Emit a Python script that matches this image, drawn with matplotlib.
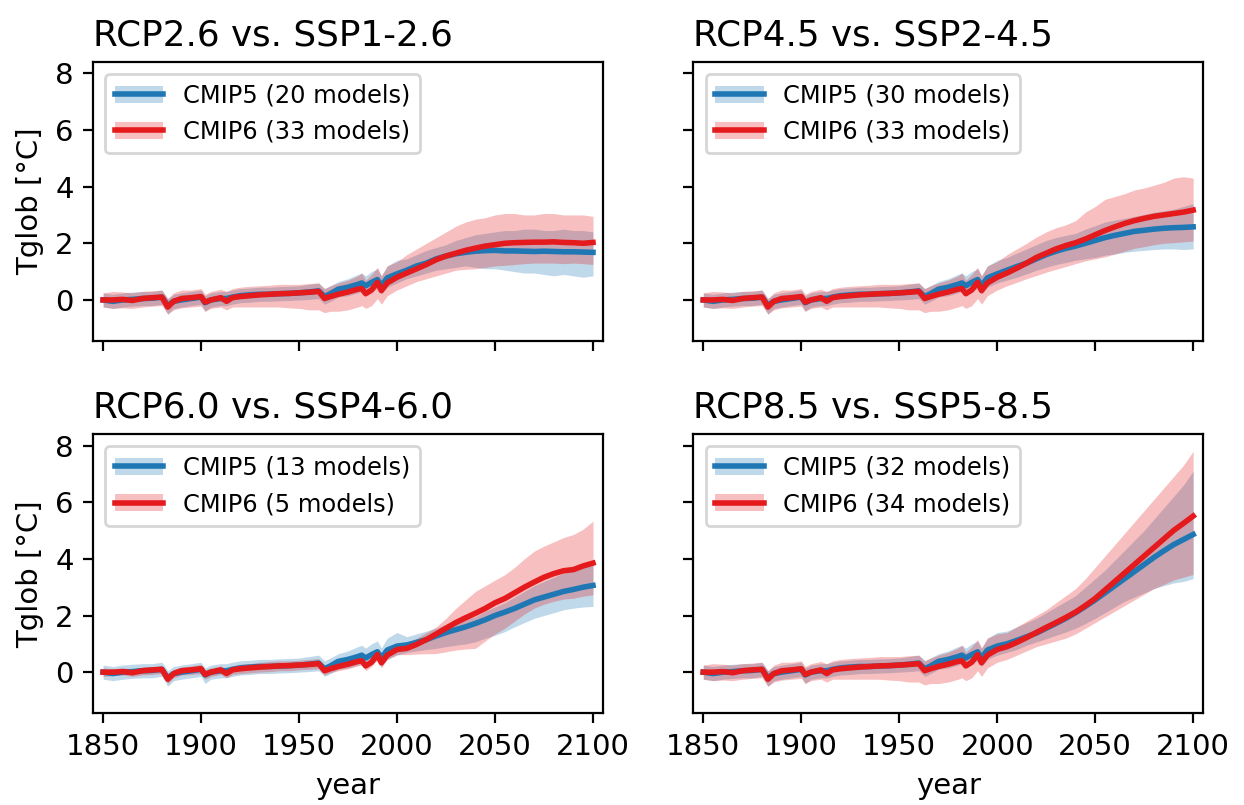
import numpy as np
import matplotlib
matplotlib.use("Agg")
import matplotlib.pyplot as plt
from matplotlib.patches import Patch
from matplotlib.lines import Line2D

# ---- historical period (shared by all panels) ----
years_hist = [1850, 1855, 1860, 1865, 1870, 1875, 1880, 1883, 1886, 1890,
              1895, 1900, 1902, 1905, 1910, 1913, 1916, 1920, 1925, 1930,
              1935, 1940, 1945, 1950, 1955, 1960, 1963, 1966, 1970, 1975,
              1980, 1982, 1984, 1987, 1990, 1992, 1995, 2000]

cm5_hist = [0.00, -0.05, 0.00, 0.02, 0.05, 0.06, 0.10, -0.20, -0.05, 0.00,
            0.05, 0.10, -0.10, 0.00, 0.05, 0.05, 0.10, 0.15, 0.18, 0.20,
            0.20, 0.22, 0.23, 0.25, 0.28, 0.32, 0.12, 0.22, 0.38, 0.45,
            0.55, 0.60, 0.50, 0.62, 0.72, 0.50, 0.78, 0.92]
cm5_hist_lo = [-0.25, -0.30, -0.25, -0.22, -0.20, -0.20, -0.15, -0.50, -0.30, -0.25,
               -0.20, -0.15, -0.40, -0.25, -0.20, -0.20, -0.15, -0.10, -0.08, -0.05,
               -0.05, -0.03, -0.02, 0.00, 0.02, 0.05, -0.15, -0.05, 0.10, 0.15,
               0.25, 0.30, 0.20, 0.30, 0.40, 0.20, 0.45, 0.60]
cm5_hist_hi = [0.25, 0.20, 0.25, 0.28, 0.30, 0.30, 0.35, 0.05, 0.20, 0.25,
               0.30, 0.35, 0.15, 0.25, 0.30, 0.30, 0.35, 0.40, 0.42, 0.45,
               0.45, 0.47, 0.48, 0.50, 0.55, 0.60, 0.40, 0.50, 0.65, 0.75,
               0.90, 0.95, 0.85, 1.00, 1.10, 0.85, 1.20, 1.40]

cm6_hist = [0.00, 0.00, 0.02, -0.02, 0.05, 0.08, 0.10, -0.25, -0.05, 0.05,
            0.08, 0.12, -0.08, 0.00, 0.08, -0.05, 0.08, 0.12, 0.15, 0.18,
            0.20, 0.22, 0.23, 0.25, 0.27, 0.30, 0.05, 0.12, 0.20, 0.28,
            0.38, 0.40, 0.22, 0.35, 0.62, 0.33, 0.60, 0.80]
cm6_hist_lo = [-0.25, -0.30, -0.28, -0.30, -0.25, -0.22, -0.20, -0.50, -0.35, -0.28,
               -0.25, -0.22, -0.40, -0.30, -0.25, -0.35, -0.25, -0.25, -0.25, -0.25,
               -0.25, -0.25, -0.28, -0.30, -0.35, -0.35, -0.45, -0.40, -0.40, -0.35,
               -0.25, -0.20, -0.30, -0.20, 0.05, -0.15, 0.15, 0.35]
cm6_hist_hi = [0.25, 0.30, 0.28, 0.25, 0.30, 0.32, 0.35, 0.05, 0.25, 0.35,
               0.35, 0.40, 0.20, 0.30, 0.38, 0.30, 0.40, 0.45, 0.48, 0.50,
               0.52, 0.55, 0.55, 0.55, 0.58, 0.60, 0.40, 0.50, 0.60, 0.70,
               0.85, 0.95, 0.70, 0.90, 1.15, 0.85, 1.20, 1.35]
# narrower CMIP6 spread for the 5-model SSP4-6.0 ensemble
cm6_hist_lo_ssp460 = [-0.15, -0.12, -0.10, -0.15, -0.10, -0.08, -0.05, -0.40, -0.20, -0.10,
                      -0.08, -0.05, -0.25, -0.15, -0.08, -0.20, -0.08, -0.05, -0.02, 0.00,
                      0.02, 0.05, 0.05, 0.08, 0.10, 0.12, -0.10, -0.02, 0.05, 0.12,
                      0.22, 0.25, 0.05, 0.20, 0.45, 0.15, 0.45, 0.62]
cm6_hist_hi_ssp460 = [0.15, 0.12, 0.15, 0.12, 0.18, 0.20, 0.22, -0.10, 0.10, 0.18,
                      0.22, 0.28, 0.08, 0.15, 0.22, 0.10, 0.22, 0.28, 0.30, 0.35,
                      0.38, 0.40, 0.40, 0.42, 0.45, 0.48, 0.22, 0.28, 0.38, 0.45,
                      0.55, 0.60, 0.40, 0.55, 0.80, 0.50, 0.78, 0.98]

# ---- scenario period ----
years_scen = [2005, 2010, 2015, 2020, 2025, 2030, 2035, 2040, 2045, 2050,
              2055, 2060, 2065, 2070, 2075, 2080, 2085, 2090, 2095, 2100]

# RCP2.6 vs SSP1-2.6
rcp26 = [1.05, 1.20, 1.30, 1.45, 1.55, 1.63, 1.68, 1.72, 1.74, 1.75,
         1.73, 1.73, 1.72, 1.71, 1.72, 1.71, 1.70, 1.70, 1.69, 1.68]
rcp26_lo = [0.75, 0.85, 0.95, 1.05, 1.10, 1.15, 1.20, 1.15, 1.10, 1.10,
            1.05, 1.00, 0.95, 0.95, 0.90, 0.85, 0.90, 0.85, 0.80, 0.85]
rcp26_hi = [1.45, 1.60, 1.75, 1.85, 1.95, 2.10, 2.20, 2.30, 2.35, 2.40,
            2.45, 2.45, 2.50, 2.50, 2.45, 2.45, 2.50, 2.45, 2.45, 2.40]
ssp126 = [0.95, 1.10, 1.25, 1.42, 1.55, 1.65, 1.75, 1.83, 1.90, 1.95,
          2.00, 2.02, 2.03, 2.04, 2.04, 2.05, 2.03, 2.02, 2.00, 2.03]
ssp126_lo = [0.50, 0.65, 0.75, 0.85, 0.95, 1.05, 1.08, 1.10, 1.15, 1.20,
             1.22, 1.25, 1.28, 1.30, 1.30, 1.30, 1.28, 1.30, 1.28, 1.25]
ssp126_hi = [1.60, 1.80, 2.00, 2.20, 2.40, 2.60, 2.75, 2.85, 2.90, 3.00,
             3.05, 3.05, 3.00, 3.00, 3.05, 3.05, 3.00, 3.00, 3.00, 2.95]

# RCP4.5 vs SSP2-4.5
rcp45 = [1.05, 1.18, 1.30, 1.45, 1.60, 1.72, 1.82, 1.90, 2.00, 2.10,
         2.20, 2.28, 2.35, 2.42, 2.46, 2.50, 2.53, 2.55, 2.56, 2.58]
rcp45_lo = [0.70, 0.80, 0.92, 1.05, 1.15, 1.25, 1.32, 1.40, 1.45, 1.50,
            1.58, 1.62, 1.68, 1.72, 1.75, 1.78, 1.80, 1.80, 1.78, 1.80]
rcp45_hi = [1.50, 1.65, 1.80, 1.95, 2.10, 2.20, 2.28, 2.35, 2.50, 2.62,
            2.75, 2.82, 2.88, 2.95, 3.02, 3.10, 3.15, 3.20, 3.30, 3.40]
ssp245 = [0.95, 1.12, 1.30, 1.50, 1.65, 1.80, 1.92, 2.02, 2.15, 2.30,
          2.45, 2.58, 2.70, 2.80, 2.88, 2.95, 3.00, 3.05, 3.10, 3.17]
ssp245_lo = [0.50, 0.62, 0.75, 0.86, 0.98, 1.08, 1.18, 1.28, 1.38, 1.45,
             1.52, 1.62, 1.72, 1.82, 1.88, 1.95, 2.00, 2.02, 2.05, 2.08]
ssp245_hi = [1.60, 1.80, 2.00, 2.22, 2.40, 2.55, 2.65, 2.80, 3.10, 3.30,
             3.55, 3.65, 3.75, 3.88, 3.95, 4.05, 4.15, 4.30, 4.35, 4.30]

# RCP6.0 vs SSP4-6.0
rcp60 = [0.96, 1.05, 1.15, 1.28, 1.40, 1.50, 1.60, 1.72, 1.85, 2.00,
         2.12, 2.25, 2.40, 2.55, 2.65, 2.75, 2.85, 2.92, 3.00, 3.06]
rcp60_lo = [0.70, 0.75, 0.80, 0.84, 0.90, 0.95, 1.00, 1.07, 1.20, 1.30,
            1.43, 1.60, 1.75, 1.90, 2.00, 2.10, 2.20, 2.26, 2.30, 2.32]
rcp60_hi = [1.25, 1.35, 1.45, 1.55, 1.70, 1.80, 1.88, 1.96, 2.15, 2.30,
            2.45, 2.65, 2.85, 3.05, 3.20, 3.35, 3.50, 3.56, 3.70, 3.85]
ssp460 = [0.84, 0.98, 1.15, 1.35, 1.55, 1.75, 1.92, 2.08, 2.25, 2.45,
          2.60, 2.80, 3.00, 3.18, 3.35, 3.48, 3.58, 3.62, 3.75, 3.85]
ssp460_lo = [0.62, 0.64, 0.65, 0.66, 0.72, 0.78, 0.82, 0.84, 1.10, 1.35,
             1.55, 1.80, 2.05, 2.26, 2.40, 2.50, 2.58, 2.61, 2.68, 2.73]
ssp460_hi = [1.05, 1.20, 1.40, 1.60, 1.90, 2.25, 2.55, 2.85, 3.05, 3.25,
             3.44, 3.70, 4.00, 4.27, 4.45, 4.60, 4.75, 4.86, 5.05, 5.33]

# RCP8.5 vs SSP5-8.5
rcp85 = [1.00, 1.12, 1.25, 1.38, 1.55, 1.72, 1.90, 2.10, 2.32, 2.55,
         2.80, 3.05, 3.30, 3.55, 3.80, 4.05, 4.28, 4.50, 4.68, 4.86]
rcp85_lo = [0.70, 0.80, 0.95, 1.07, 1.18, 1.30, 1.42, 1.55, 1.72, 1.90,
            2.10, 2.30, 2.50, 2.65, 2.80, 2.95, 3.05, 3.15, 3.20, 3.30]
rcp85_hi = [1.45, 1.60, 1.75, 1.90, 2.10, 2.30, 2.50, 2.70, 3.00, 3.30,
            3.60, 3.95, 4.30, 4.65, 5.00, 5.40, 5.80, 6.20, 6.60, 7.10]
ssp585 = [0.90, 1.05, 1.22, 1.40, 1.58, 1.75, 1.93, 2.12, 2.35, 2.60,
          2.90, 3.20, 3.50, 3.80, 4.10, 4.40, 4.70, 5.00, 5.25, 5.51]
ssp585_lo = [0.45, 0.60, 0.75, 0.90, 1.00, 1.10, 1.20, 1.35, 1.55, 1.75,
             1.95, 2.15, 2.35, 2.55, 2.75, 2.95, 3.10, 3.25, 3.35, 3.45]
ssp585_hi = [1.40, 1.60, 1.80, 2.00, 2.20, 2.45, 2.70, 2.95, 3.30, 3.70,
             4.10, 4.50, 4.90, 5.30, 5.70, 6.10, 6.50, 6.90, 7.30, 7.80]

titles = ["RCP2.6 vs. SSP1-2.6", "RCP4.5 vs. SSP2-4.5",
          "RCP6.0 vs. SSP4-6.0", "RCP8.5 vs. SSP5-8.5"]
n_cmip5 = [20, 30, 13, 32]
n_cmip6 = [33, 33, 5, 34]

panels = [
    (rcp26, rcp26_lo, rcp26_hi, ssp126, ssp126_lo, ssp126_hi),
    (rcp45, rcp45_lo, rcp45_hi, ssp245, ssp245_lo, ssp245_hi),
    (rcp60, rcp60_lo, rcp60_hi, ssp460, ssp460_lo, ssp460_hi),
    (rcp85, rcp85_lo, rcp85_hi, ssp585, ssp585_lo, ssp585_hi),
]

c5 = "#1f77b4"
c6 = "#e41a1c"
lw = 2.0

fig, axes = plt.subplots(2, 2, figsize=(6.22, 4.025), dpi=200,
                         sharex=True, sharey=True)
fig.subplots_adjust(left=0.075, right=0.967, top=0.923, bottom=0.114,
                    wspace=0.178, hspace=0.334)

yrs = np.array(years_hist + years_scen)

for i, ax in enumerate(axes.flat):
    m5, lo5, hi5, m6, lo6, hi6 = panels[i]
    h6lo = cm6_hist_lo_ssp460 if i == 2 else cm6_hist_lo
    h6hi = cm6_hist_hi_ssp460 if i == 2 else cm6_hist_hi

    ax.fill_between(yrs, cm5_hist_lo + lo5, cm5_hist_hi + hi5,
                    color=c5, alpha=0.28, lw=0)
    ax.fill_between(yrs, h6lo + lo6, h6hi + hi6,
                    color=c6, alpha=0.28, lw=0)
    ax.plot(yrs, cm5_hist + m5, color=c5, lw=lw)
    ax.plot(yrs, cm6_hist + m6, color=c6, lw=lw)

    ax.set_title(titles[i], loc="left", fontsize=12.9)
    ax.tick_params(labelsize=10.5)

    handles = [(Patch(color=c5, alpha=0.28, lw=0), Line2D([], [], color=c5, lw=lw)),
               (Patch(color=c6, alpha=0.28, lw=0), Line2D([], [], color=c6, lw=lw))]
    labels = [f"CMIP5 ({n_cmip5[i]} models)", f"CMIP6 ({n_cmip6[i]} models)"]
    ax.legend(handles, labels, loc="upper left", fontsize=8.7)

ax = axes[0, 0]
ax.set_xlim(1845, 2105)
ax.set_ylim(-1.45, 8.4)
ax.set_xticks([1850, 1900, 1950, 2000, 2050, 2100])
ax.set_yticks([0, 2, 4, 6, 8])

for a in axes[:, 0]:
    a.set_ylabel("Tglob [°C]", fontsize=10.5)
for a in axes[1, :]:
    a.set_xlabel("year", fontsize=10.5)

fig.savefig("out.png", dpi=200)
